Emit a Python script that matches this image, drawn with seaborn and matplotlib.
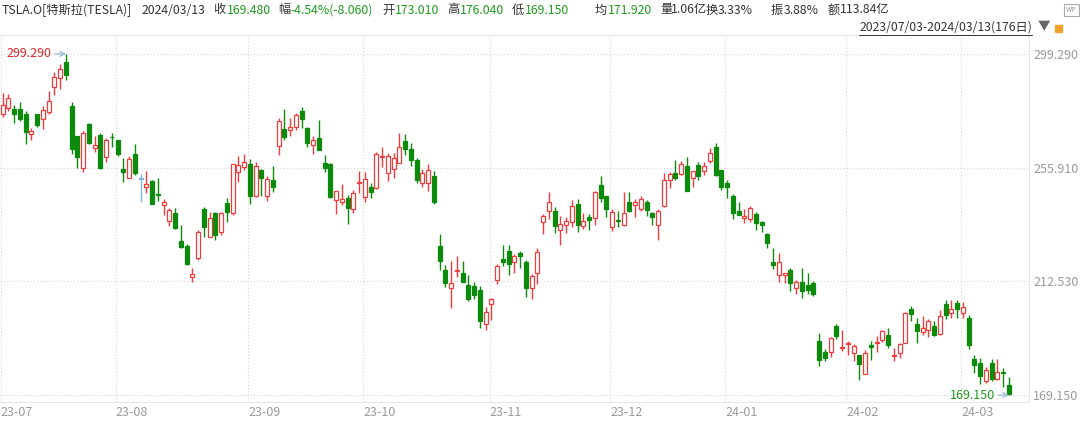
import numpy as np
import pandas as pd
import seaborn as sns
import matplotlib.pyplot as plt
from matplotlib.lines import Line2D
from matplotlib.patches import Rectangle

# month labels and index of first trading day of each month
months = ['23-07', '23-08', '23-09', '23-10', '23-11', '23-12', '24-01', '24-02', '24-03']
month_start = [0, 20, 43, 63, 85, 106, 126, 147, 167]
price_ticks = [299.29, 255.91, 212.53, 169.15]

# daily OHLC, 2023/07/03 - 2024/03/13 (176 days)
opens = [276.49, 278.82, 278.09, 278.43, 276.47, 268.65, 276.33, 274.59, 277.01, 286.63,
         290.15, 296.04, 279.56, 268.00, 255.85, 272.38, 263.25, 268.31, 259.86, 267.48,
         266.26, 255.57, 252.04, 260.97, 251.45, 248.42, 250.87, 245.40, 241.77, 235.70,
         238.73, 228.02, 226.06, 214.12, 221.55, 240.25, 229.34, 238.66, 231.31, 242.58,
         238.58, 254.20, 255.98,
         257.26, 245.00, 255.14, 245.07, 251.22, 264.27, 270.76, 270.07, 271.32, 277.55,
         271.16, 264.35, 267.04, 257.85, 257.40, 243.38, 242.98, 244.26, 240.02, 250.00,
         244.81, 248.61, 248.14, 260.00, 253.98, 255.31, 257.75, 266.20, 262.92, 258.90,
         250.05, 250.10, 252.70, 225.95, 217.01, 210.00, 216.50, 215.88, 211.32, 210.60,
         209.28, 196.12,
         204.04, 212.97, 221.15, 223.98, 219.98, 223.15, 219.75, 210.03, 215.60, 235.03,
         239.29, 239.49, 232.00, 234.04, 235.04, 242.04, 233.75, 236.89, 236.68, 249.21,
         245.14,
         233.14, 235.75, 233.87, 242.92, 241.55, 240.27, 242.74, 238.55, 234.19, 241.22,
         251.21, 253.78, 253.48, 256.41, 251.90, 256.76, 254.49, 258.35, 263.66, 255.10,
         250.08, 244.98, 239.25, 236.86, 236.14, 238.11, 235.10, 230.57, 220.08, 215.10,
         214.86, 216.88, 209.99, 212.26, 211.30, 211.88, 189.70, 185.50, 185.63, 195.33,
         187.00,
         188.50, 185.04, 184.26, 177.21, 188.18, 189.00, 190.18, 192.11, 183.99, 185.30,
         189.16, 202.06, 196.13, 193.36, 194.00, 195.31, 192.29, 204.04, 200.42, 204.18,
         200.52, 198.73, 183.05, 181.27, 174.35, 181.50, 175.45, 177.77, 173.01]
highs = [284.25, 283.85, 279.97, 280.78, 277.52, 270.90, 276.52, 279.45, 285.30, 292.23,
         295.26, 299.29, 280.93, 268.00, 269.85, 272.90, 268.04, 269.13, 267.25, 269.08,
         266.47, 259.52, 260.49, 264.77, 253.65, 254.77, 251.10, 251.80, 243.79, 240.66,
         240.50, 233.97, 226.74, 217.58, 232.13, 240.82, 238.98, 238.92, 239.00, 244.38,
         257.48, 260.51, 261.18,
         259.08, 258.00, 255.39, 252.81, 256.52, 274.85, 278.39, 274.98, 276.71, 278.98,
         271.44, 267.85, 273.93, 260.86, 257.79, 247.10, 249.55, 245.33, 247.55, 254.77,
         254.28, 250.02, 261.86, 263.60, 261.65, 261.36, 268.94, 268.60, 265.41, 259.60,
         255.40, 257.18, 254.63, 230.61, 218.86, 220.10, 222.05, 220.10, 214.80, 212.41,
         210.88, 202.80,
         205.99, 219.20, 226.37, 226.32, 223.12, 224.15, 220.80, 215.38, 225.40, 238.14,
         246.70, 240.88, 237.39, 237.10, 243.62, 244.01, 238.75, 238.33, 247.00, 252.75,
         245.22,
         240.19, 239.37, 246.66, 246.57, 244.08, 245.27, 243.44, 238.99, 240.30, 253.88,
         254.13, 258.74, 258.34, 259.84, 254.80, 258.22, 257.97, 263.34, 265.13, 255.19,
         251.25, 245.68, 242.70, 240.12, 241.25, 238.96, 235.50, 230.93, 225.34, 223.49,
         215.67, 217.45, 213.19, 217.80, 215.65, 212.73, 193.00, 186.78, 191.48, 196.36,
         193.97,
         189.88, 188.69, 184.49, 186.49, 189.79, 191.62, 194.12, 194.73, 187.26, 188.89,
         200.88, 203.17, 198.60, 199.44, 198.32, 197.57, 201.78, 205.60, 205.30, 205.28,
         204.52, 199.75, 184.59, 183.10, 180.04, 182.73, 182.87, 179.43, 176.04]
lows = [275.11, 277.60, 272.88, 273.77, 265.10, 266.37, 271.46, 270.60, 276.31, 283.57,
        286.01, 289.52, 261.20, 255.80, 254.12, 265.00, 261.75, 255.30, 258.23, 263.78,
        260.25, 250.49, 252.00, 253.11, 242.76, 246.34, 241.90, 243.00, 238.02, 233.75,
        232.61, 225.38, 218.83, 212.36, 220.58, 229.55, 229.29, 228.18, 230.35, 235.35,
        237.77, 250.59, 255.05,
        242.01, 244.86, 245.06, 243.27, 246.67, 260.61, 266.60, 268.10, 270.42, 271.00,
        263.76, 261.20, 262.46, 254.21, 244.48, 238.31, 241.66, 234.58, 238.65, 246.35,
        242.62, 244.45, 247.60, 256.25, 250.65, 252.05, 257.65, 260.90, 256.63, 250.22,
        248.48, 247.08, 242.08, 216.78, 210.42, 202.51, 214.11, 212.20, 204.88, 205.77,
        194.67, 194.07,
        197.85, 211.45, 218.40, 215.00, 215.72, 217.64, 206.68, 205.69, 211.61, 230.72,
        236.45, 230.96, 226.54, 231.02, 233.34, 231.40, 232.33, 232.10, 234.01, 242.76,
        236.91,
        231.90, 233.29, 233.70, 239.17, 236.98, 239.27, 237.45, 233.87, 228.20, 240.79,
        248.30, 251.36, 253.01, 247.00, 248.55, 251.37, 252.91, 257.52, 252.71, 247.43,
        244.41, 236.32, 237.73, 234.90, 235.30, 232.04, 231.29, 225.37, 217.15, 212.18,
        212.01, 208.74, 207.56, 206.27, 207.75, 206.77, 180.06, 182.10, 183.67, 190.61,
        185.85,
        184.28, 182.00, 175.01, 177.11, 182.68, 185.58, 189.48, 187.28, 182.11, 183.35,
        188.86, 197.40, 189.13, 191.95, 191.36, 191.50, 192.00, 198.26, 198.44, 198.45,
        198.50, 186.72, 177.57, 173.48, 173.70, 174.70, 174.80, 172.41, 169.15]
closes = [279.82, 282.48, 276.54, 274.43, 269.61, 269.79, 271.99, 277.90, 281.38, 290.38,
          293.34, 291.26, 262.90, 260.02, 269.06, 265.28, 264.35, 255.71, 266.44, 267.43,
          261.07, 254.11, 259.32, 253.86, 251.45, 249.70, 242.19, 245.34, 242.65, 239.76,
          232.96, 225.60, 219.22, 215.49, 231.28, 233.19, 236.86, 230.04, 238.59, 238.82,
          257.18, 256.90, 258.08,
          245.01, 256.49, 251.92, 251.49, 248.50, 273.58, 267.48, 271.30, 276.04, 274.39,
          265.28, 266.50, 262.59, 255.70, 244.88, 246.99, 244.12, 240.50, 246.38, 250.22,
          251.60, 246.53, 261.16, 260.05, 260.53, 259.67, 263.62, 262.99, 258.87, 251.12,
          253.92, 254.85, 242.68, 220.11, 211.99, 212.08, 216.52, 212.42, 205.76, 207.30,
          197.36, 200.84,
          205.66, 218.51, 219.96, 219.27, 222.18, 222.11, 209.98, 214.65, 223.71, 237.41,
          242.84, 233.59, 234.30, 235.60, 241.20, 234.21, 235.45, 236.08, 246.72, 244.14,
          240.08,
          238.83, 235.58, 238.72, 239.37, 242.64, 243.84, 239.74, 237.01, 239.29, 251.05,
          253.50, 252.08, 257.22, 247.14, 254.50, 252.54, 256.61, 261.44, 253.18, 248.48,
          248.42, 238.45, 237.93, 237.49, 240.45, 234.96, 233.94, 227.22, 218.89, 219.91,
          215.55, 211.88, 212.19, 208.80, 209.14, 207.83, 182.63, 183.25, 190.93, 191.59,
          187.29,
          188.86, 187.91, 181.06, 185.10, 187.58, 189.56, 193.57, 188.13, 184.02, 188.71,
          200.45, 199.95, 193.76, 194.77, 197.41, 191.97, 199.40, 199.73, 202.04, 201.88,
          202.64, 188.14, 180.74, 176.54, 178.65, 175.34, 177.77, 177.54, 169.48]

df = pd.DataFrame({'open': opens, 'high': highs, 'low': lows, 'close': closes})
df['idx'] = np.arange(len(df))

RED = '#f03c3c'
GREEN = '#0b8a0b'
DOJI = '#86b4de'
TXT_GREEN = '#1f9a1f'
DARK = '#333333'
GRAY = '#9a9a9a'

color = np.where(df.close > df.open, RED, np.where(df.close < df.open, GREEN, DOJI))
face = np.where(df.close > df.open, 'white', color)
body_bottom = np.minimum(df.open, df.close)
body_h = np.maximum((df.close - df.open).abs(), 0.35)

sns.set_style('white')
plt.rcParams['font.family'] = ['Noto Sans CJK SC', 'DejaVu Sans']

fig = plt.figure(figsize=(10.8, 4.21), dpi=100)
W, H = 1080, 421
ax = fig.add_axes([0, 19 / H, 1029 / W, 367 / H])

# grid
for y in price_ticks:
    ax.axhline(y, color='#d6d6d6', lw=0.8, ls=(0, (1, 2)), zorder=0)
for m in month_start:
    ax.axvline(m - 0.3, color='#d6d6d6', lw=0.8, ls=(0, (1, 2)), zorder=0)

# candles
ax.vlines(df.idx, df.low, df.high, colors=color, lw=1, zorder=2)
ax.bar(df.idx, body_h, bottom=body_bottom, width=0.7, color=face,
       edgecolor=color, linewidth=0.9, zorder=3)

ax.set_xlim(-0.47, 178.5)
ax.set_ylim(166.5, 306.5)

ax.yaxis.tick_right()
ax.set_yticks(price_ticks)
ax.set_yticklabels([f'{v:.3f}' for v in price_ticks])
ax.tick_params(axis='y', length=0, pad=3, labelsize=9, labelcolor=GRAY)
ax.set_xticks([m - 0.3 for m in month_start])
ax.set_xticklabels(months)
ax.tick_params(axis='x', length=0, pad=3, labelsize=9, labelcolor=GRAY)
for lab in ax.get_xticklabels():
    lab.set_horizontalalignment('left')

for s in ['top', 'bottom', 'right']:
    ax.spines[s].set_color('#e6e6e6')
    ax.spines[s].set_linewidth(0.8)
ax.spines['left'].set_visible(False)

# max / min markers
imax = int(df.high.idxmax())
imin = int(df.low.idxmin())
ax.annotate(f'{df.high.max():.3f}', xy=(imax, df.high.max()), xytext=(imax - 2.5, df.high.max()),
            ha='right', va='center', color='#e02828', fontsize=9,
            arrowprops=dict(arrowstyle='->', color='#8fb4d9', lw=0.8, shrinkA=0, shrinkB=0))
ax.annotate(f'{df.low.min():.3f}', xy=(imin, df.low.min()), xytext=(imin - 2.4, df.low.min()),
            ha='right', va='center', color=TXT_GREEN, fontsize=9,
            arrowprops=dict(arrowstyle='->', color='#8fb4d9', lw=0.8, shrinkA=0, shrinkB=0))

# header line
header = [('TSLA.O[特斯拉(TESLA)]', 2, DARK), ('2024/03/13', 142, DARK),
          ('收', 213, DARK), ('169.480', 227, TXT_GREEN),
          ('幅', 278, DARK), ('-4.54%(-8.060)', 290, TXT_GREEN),
          ('开', 382, DARK), ('173.010', 395, TXT_GREEN),
          ('高', 447, DARK), ('176.040', 460, TXT_GREEN),
          ('低', 512, DARK), ('169.150', 525, TXT_GREEN),
          ('均', 595, DARK), ('171.920', 608, TXT_GREEN),
          ('量', 660, DARK), ('1.06亿', 671, DARK),
          ('换', 706, DARK), ('3.33%', 718, DARK),
          ('振', 771, DARK), ('3.88%', 784, DARK),
          ('额', 828, DARK), ('113.84亿', 840, DARK)]
for txt, x, c in header:
    fig.text(x / W, 1 - 10 / H, txt, ha='left', va='center', fontsize=8.8, color=c)

fig.text(1032 / W, 1 - 27 / H, '2023/07/03-2024/03/13(176日)', ha='right', va='center',
         fontsize=8.8, color=DARK)
fig.add_artist(Line2D([859 / W, 1032 / W], [1 - 34.5 / H, 1 - 34.5 / H], color=DARK, lw=0.7))
fig.text(1044 / W, 1 - 27 / H, '▼', ha='center', va='center', fontsize=9, color='#666666')
fig.add_artist(Rectangle((1055 / W, 1 - 32 / H), 7 / W, 7 / H, color='#f2a22a'))
fig.add_artist(Rectangle((1064 / W, 1 - 16 / H), 15 / W, 12 / H, fill=False, ec='#aaaaaa', lw=0.8))
fig.text(1071.5 / W, 1 - 10 / H, 'WP', ha='center', va='center', fontsize=5, color='#999999')

fig.savefig('out.png', dpi=100, facecolor='white')
